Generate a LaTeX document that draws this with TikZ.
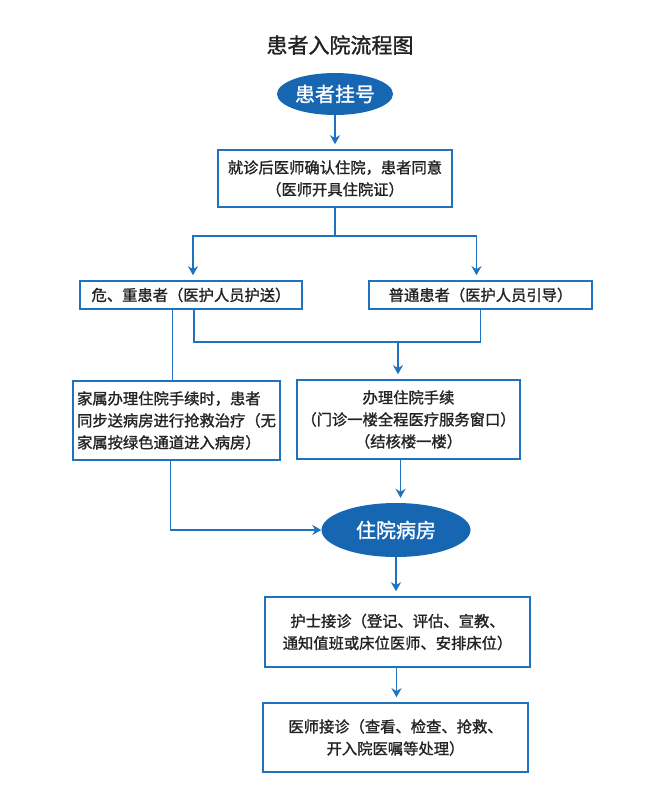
\documentclass[tikz,border=0pt]{standalone}
\usepackage{fontspec}
\setmainfont{Noto Sans CJK SC}[FakeBold=1.3]
\usetikzlibrary{shapes.geometric,arrows.meta}
\definecolor{lineblue}{RGB}{30,114,190}
\definecolor{fillblue}{RGB}{22,102,178}
\definecolor{txtgray}{RGB}{35,35,35}
\begin{document}
\begin{tikzpicture}[>={Stealth[length=9pt,width=10pt]},x=1pt,y=-1pt,
	box/.style={draw=lineblue,line width=1.6pt,fill=white,text=txtgray,inner sep=3pt,font=\fontsize{15.3}{22}\selectfont,align=center},
	oval/.style={ellipse,fill=fillblue,text=white,inner sep=0pt,font=\fontsize{20}{24}\selectfont},
	link/.style={draw=lineblue,line width=1.8pt},
	gap/.style={shorten >=5pt}]
	\useasboundingbox[fill=white] (0,0) rectangle (666,800);
	\node[text=txtgray,font=\fontsize{21}{24}\selectfont] (title) at (340,45) {患者入院流程图};
	\node[oval,minimum width=116pt,minimum height=42pt] (reg) at (335,94) {患者挂号};
	\node[box,minimum width=234pt,minimum height=57pt] (confirm) at (335,178.5) {就诊后医师确认住院，患者同意\\（医师开具住院证）};
	\node[box,minimum width=222pt,minimum height=28pt] (severe) at (191,295) {危、重患者（医护人员护送）};
	\node[box,minimum width=223pt,minimum height=28pt] (normal) at (480.5,295) {普通患者（医护人员引导）};
	\node[box,align=left,minimum width=207pt,minimum height=79pt] (family) at (176.5,420.5) {家属办理住院手续时，患者\\同步送病房进行抢救治疗（无\\家属按绿色通道进入病房）};
	\node[box,minimum width=223pt,minimum height=79pt] (proc) at (408.5,419.5) {办理住院手续\\（门诊一楼全程医疗服务窗口）\\（结核楼一楼）};
	\node[oval,minimum width=149pt,minimum height=54pt] (ward) at (396,530) {住院病房};
	\node[box,minimum width=265pt,minimum height=70pt] (nurse) at (397.5,632) {护士接诊（登记、评估、宣教、\\通知值班或床位医师、安排床位）};
	\node[box,minimum width=265pt,minimum height=69pt] (doctor) at (395.5,737.5) {医师接诊（查看、检查、抢救、\\开入院医嘱等处理）};
	\coordinate (split) at (335,236);
	\coordinate (merge) at (398,342);
	\draw[link,->,gap] (reg) -- (confirm);
	\draw[link] (confirm) -- (split);
	\draw[link,->,gap] (split) -| ([xshift=2pt]severe.north);
	\draw[link,->,gap] (split) -| ([xshift=-4pt]normal.north);
	\draw[link] ([xshift=-4pt]family.north) -- ([xshift=-4pt]family.north |- severe.south);
	\draw[link] ([xshift=3pt]severe.south) |- (merge) -| (normal.south);
	\draw[link,->,gap] (merge) -- (merge |- proc.north);
	\draw[link,->,gap] ([xshift=-8pt]proc.south) -- ([xshift=-8pt]proc.south |- ward.north);
	\draw[link,->] ([xshift=-6pt]family.south) |- (ward.west);
	\draw[link,->,gap] (ward) -- (ward.south |- nurse.north);
	\draw[link,->,gap] ([xshift=-1pt]nurse.south) -- ([xshift=-1pt]nurse.south |- doctor.north);
\end{tikzpicture}
\end{document}
